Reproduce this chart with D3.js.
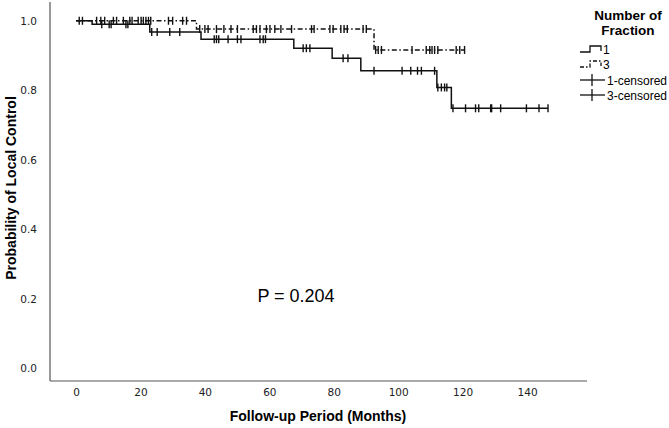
<!DOCTYPE html>
<html>
<head>
<meta charset="utf-8">
<script src="https://cdn.jsdelivr.net/npm/d3@7"></script>
<style>
	body { margin: 0; background: #fff; }
	text { font-family: 'Liberation Sans', Arial, sans-serif; }
	.tick-label { font-family: 'DejaVu Sans', sans-serif; font-size: 10.5px; fill: #222; }
	.axis-title { font-size: 14px; font-weight: bold; fill: #000; }
</style>
</head>
<body>
<div id="chart"></div>
<script>
let width = 669
let height = 428

// fraction 1 (solid): event times (months) and survival after each step
let f1Times = [0, 5.0, 22.9, 38.8, 67.6, 79.5, 88.4, 112.0, 116.5]
let f1Surv = [1.0, 0.990, 0.968, 0.947, 0.921, 0.892, 0.856, 0.808, 0.748]
let f1End = 146.5
let f1Censored = [8.0, 10.3, 10.9, 15.5, 16.1, 23.5, 25.2, 29.1, 32.2,
	42.9, 43.6, 44.3, 47.2, 50.1, 51.2, 57.1, 58.1, 58.8,
	70.5, 71.5, 72.6, 82.9, 84.4,
	92.5, 101.2, 103.9, 106.0, 107.2, 111.3,
	112.3, 113.4, 114.4, 115.1,
	117.0, 120.9, 124.0, 125.0, 128.7, 129.0, 131.8, 139.8, 143.7, 146.5]

// fraction 3 (dash-dot)
let f3Times = [0, 37.4, 92.5]
let f3Surv = [1.0, 0.976, 0.916]
let f3End = 120.6
let f3Censored = [1.0, 2.0, 6.4, 7.7, 8.9, 11.6, 12.6, 14.7, 16.7, 17.4, 19.3, 20.2, 20.9, 21.7, 22.5, 23.2, 28.7, 30.0, 33.1, 34.3,
	38.4, 40.0, 41.0, 43.6, 45.9, 48.1, 50.1, 55.0, 56.0, 57.1, 59.1, 60.2, 61.7, 63.6, 66.9, 73.1, 73.9, 78.8, 79.8, 82.2, 83.2, 84.2, 89.1, 90.1,
	93.0, 93.8, 94.8, 104.3, 108.7, 109.8, 110.5, 111.3, 112.3, 118.0, 119.1, 120.6]

let xTicks = [0, 20, 40, 60, 80, 100, 120, 140]
let yTicks = [0.0, 0.2, 0.4, 0.6, 0.8, 1.0]
let legendLabels = ['1', '3', '1-censored', '3-censored']

let plot = { left: 50, right: 587, top: 2, bottom: 381 }

let xScale = d3.scaleLinear()
	.domain([-8.07, 158.6])
	.range([plot.left, plot.right])

let yScale = d3.scaleLinear()
	.domain([-0.037, 1.054])
	.range([plot.bottom, plot.top])

let svg = d3.select('#chart').append('svg')
	.attr('width', width)
	.attr('height', height)

// axes: SPSS style, no tick marks
let xAxis = d3.axisBottom(xScale).tickValues(xTicks).tickSize(0).tickPadding(8).tickFormat(d3.format('d'))
let yAxis = d3.axisLeft(yScale).tickValues(yTicks).tickSize(0).tickPadding(13).tickFormat(d3.format('.1f'))

let gx = svg.append('g')
	.attr('transform', `translate(0,${plot.bottom})`)
	.call(xAxis)
gx.select('.domain').attr('d', `M${plot.left},0H${plot.right}`).attr('stroke', '#555').attr('stroke-width', 1.2)
gx.selectAll('text').attr('class', 'tick-label')

let gy = svg.append('g')
	.attr('transform', `translate(${plot.left},0)`)
	.call(yAxis)
gy.select('.domain').attr('d', `M0,${plot.top}V${plot.bottom}`).attr('stroke', '#555').attr('stroke-width', 1.2)
gy.selectAll('text').attr('class', 'tick-label')

svg.append('text')
	.attr('class', 'axis-title')
	.attr('x', 318)
	.attr('y', 421)
	.attr('text-anchor', 'middle')
	.text('Follow-up Period (Months)')

svg.append('text')
	.attr('class', 'axis-title')
	.attr('transform', 'translate(16,188) rotate(-90)')
	.attr('text-anchor', 'middle')
	.text('Probability of Local Control')

// survival curves
let stepLine = d3.line()
	.x(d => xScale(d[0]))
	.y(d => yScale(d[1]))
	.curve(d3.curveStepAfter)

function curvePoints(times, surv, end) {
	let pts = times.map((t, i) => [t, surv[i]])
	pts.push([end, surv[surv.length - 1]])
	return pts
}

function survAt(times, surv, t) {
	let s = surv[0]
	times.forEach((tt, i) => { if (tt <= t) s = surv[i] })
	return s
}

let series = [
	{ times: f1Times, surv: f1Surv, end: f1End, cens: f1Censored, dash: null },
	{ times: f3Times, surv: f3Surv, end: f3End, cens: f3Censored, dash: '5,2.5,1.5,2.5' },
]

let marks = svg.append('g')

series.forEach(s => {
	marks.append('path')
		.attr('d', stepLine(curvePoints(s.times, s.surv, s.end)))
		.attr('fill', 'none')
		.attr('stroke', '#111')
		.attr('stroke-width', 1.5)
		.attr('stroke-dasharray', s.dash)

	marks.append('g').selectAll('line')
		.data(s.cens)
		.enter().append('line')
		.attr('x1', d => xScale(d))
		.attr('x2', d => xScale(d))
		.attr('y1', d => yScale(survAt(s.times, s.surv, d)) - 4)
		.attr('y2', d => yScale(survAt(s.times, s.surv, d)) + 4)
		.attr('stroke', '#111')
		.attr('stroke-width', 1.4)
})

svg.append('text')
	.attr('x', 296)
	.attr('y', 302)
	.attr('text-anchor', 'middle')
	.style('font-size', '18px')
	.style('fill', '#000')
	.text('P = 0.204')

// legend
let legend = svg.append('g')

legend.append('text')
	.attr('x', 628)
	.attr('y', 20)
	.attr('text-anchor', 'middle')
	.style('font-size', '13.5px')
	.style('font-weight', 'bold')
	.text('Number of')

legend.append('text')
	.attr('x', 628)
	.attr('y', 35)
	.attr('text-anchor', 'middle')
	.style('font-size', '13.5px')
	.style('font-weight', 'bold')
	.text('Fraction')

let legendY = [49, 64, 80, 95]

legendLabels.forEach((lab, i) => {
	let y = legendY[i]
	if (i < 2) {
		legend.append('path')
			.attr('d', `M580,${y + 3}H590V${y - 3}H601V${y + 2}`)
			.attr('fill', 'none')
			.attr('stroke', '#111')
			.attr('stroke-width', 1.3)
			.attr('stroke-dasharray', i == 1 ? '4,2,1.5,2' : null)
	} else {
		legend.append('line')
			.attr('x1', 580).attr('x2', 605)
			.attr('y1', y).attr('y2', y)
			.attr('stroke', '#111').attr('stroke-width', 1.3)
		legend.append('line')
			.attr('x1', 592).attr('x2', 592)
			.attr('y1', y - 6).attr('y2', y + 6)
			.attr('stroke', '#111').attr('stroke-width', 1.3)
	}
	legend.append('text')
		.attr('x', i < 2 ? 603 : 607)
		.attr('y', y + 4.5)
		.style('font-size', '12px')
		.style('fill', '#000')
		.text(lab)
})
</script>
</body>
</html>
